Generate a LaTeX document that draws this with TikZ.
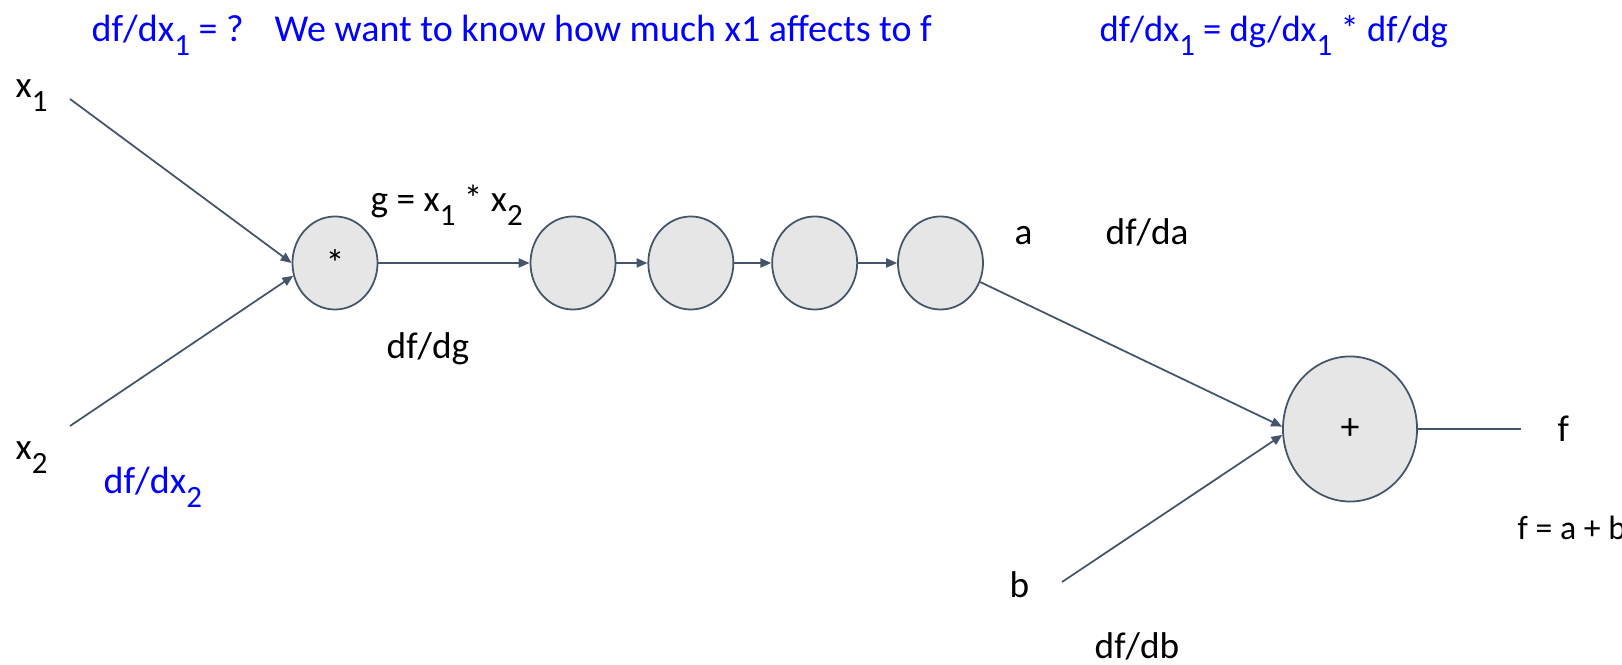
\documentclass[tikz,border=0pt]{standalone}
\usepackage{fontspec}
\setmainfont{Carlito}
\usepackage{xcolor}
\usetikzlibrary{arrows.meta,positioning,shapes.geometric}
\definecolor{gradstroke}{RGB}{68,84,106}
\definecolor{gradfill}{RGB}{230,230,230}
\newcommand{\lowidx}[1]{\raisebox{-0.36em}{\fontsize{8.8}{9}\selectfont #1}}
\tikzset{
    gradop/.style={ellipse, draw=gradstroke, fill=gradfill, line width=0.5pt, minimum width=0.85cm, minimum height=0.93cm, inner sep=0pt, font=\fontsize{10.8}{13}\selectfont},
    gradbig/.style={gradop, minimum width=1.34cm, minimum height=1.45cm},
    gradarrow/.style={-{Triangle[length=3.1pt,width=2.6pt]}, draw=gradstroke, line width=0.5pt},
    gradwire/.style={draw=gradstroke, line width=0.5pt},
    gradnote/.style={font=\fontsize{10.6}{13}\selectfont, inner sep=0pt, anchor=base west},
    gradblue/.style={gradnote, text=blue, font=\fontsize{10.8}{13}\selectfont}
}

\begin{document}
\begin{tikzpicture}[x=0.01cm, y=-0.01cm]
        \useasboundingbox (0,0) rectangle (1622,665);

        \node[gradblue] (qleft) at (91,42) {df/dx\lowidx{1} = ?};
        \node[gradblue] (qtext) at (274,42) {We want to know how much x1 affects to f};
        \node[gradblue, font=\fontsize{10.4}{13}\selectfont] (qchain) at (1099,42) {df/dx\lowidx{1} = dg/dx\lowidx{1} * df/dg};

        \node[gradop] (mul) at (335,263) {*};
        \node[gradop] (c1) at (573,263) {};
        \node[gradop, right=0.31cm of c1] (c2) {};
        \node[gradop, right=0.37cm of c2] (c3) {};
        \node[gradop, right=0.39cm of c3] (c4) {};
        \node[gradbig] (add) at (1350,429) {+};

        \node[gradnote] (x1) at (15,98) {x\lowidx{1}};
        \node[gradnote] (x2) at (15,460) {x\lowidx{2}};
        \node[gradblue] (dx2) at (103,494) {df/dx\lowidx{2}};
        \node[gradnote] (gdef) at (370,212) {g = x\lowidx{1} * x\lowidx{2}};
        \node[gradnote] (dg) at (386,359) {df/dg};
        \node[gradnote] (a) at (1014,245) {a};
        \node[gradnote] (da) at (1105,245) {df/da};
        \node[gradnote] (b) at (1009,598) {b};
        \node[gradnote] (db) at (1094,659) {df/db};
        \node[gradnote] (f) at (1557,442) {f};
        \node[gradnote, font=\fontsize{9.6}{12}\selectfont] (fdef) at (1517,540) {f = a + b};

        \coordinate (x1end) at (70,99);
        \coordinate (x2end) at (70,426);
        \coordinate (bend) at (1062,582);
        \coordinate (fend) at (1521,429);

        \draw[gradarrow] (x1end) -- (mul.west);
        \draw[gradarrow] (x2end) -- (mul.197);
        \draw[gradarrow] (mul) -- (c1);
        \draw[gradarrow] (c1) -- (c2);
        \draw[gradarrow] (c2) -- (c3);
        \draw[gradarrow] (c3) -- (c4);
        \draw[gradarrow] (c4) -- (add.178);
        \draw[gradarrow] (bend) -- (add.185);
        \draw[gradwire] (add) -- (fend);
    \end{tikzpicture}
\end{document}
